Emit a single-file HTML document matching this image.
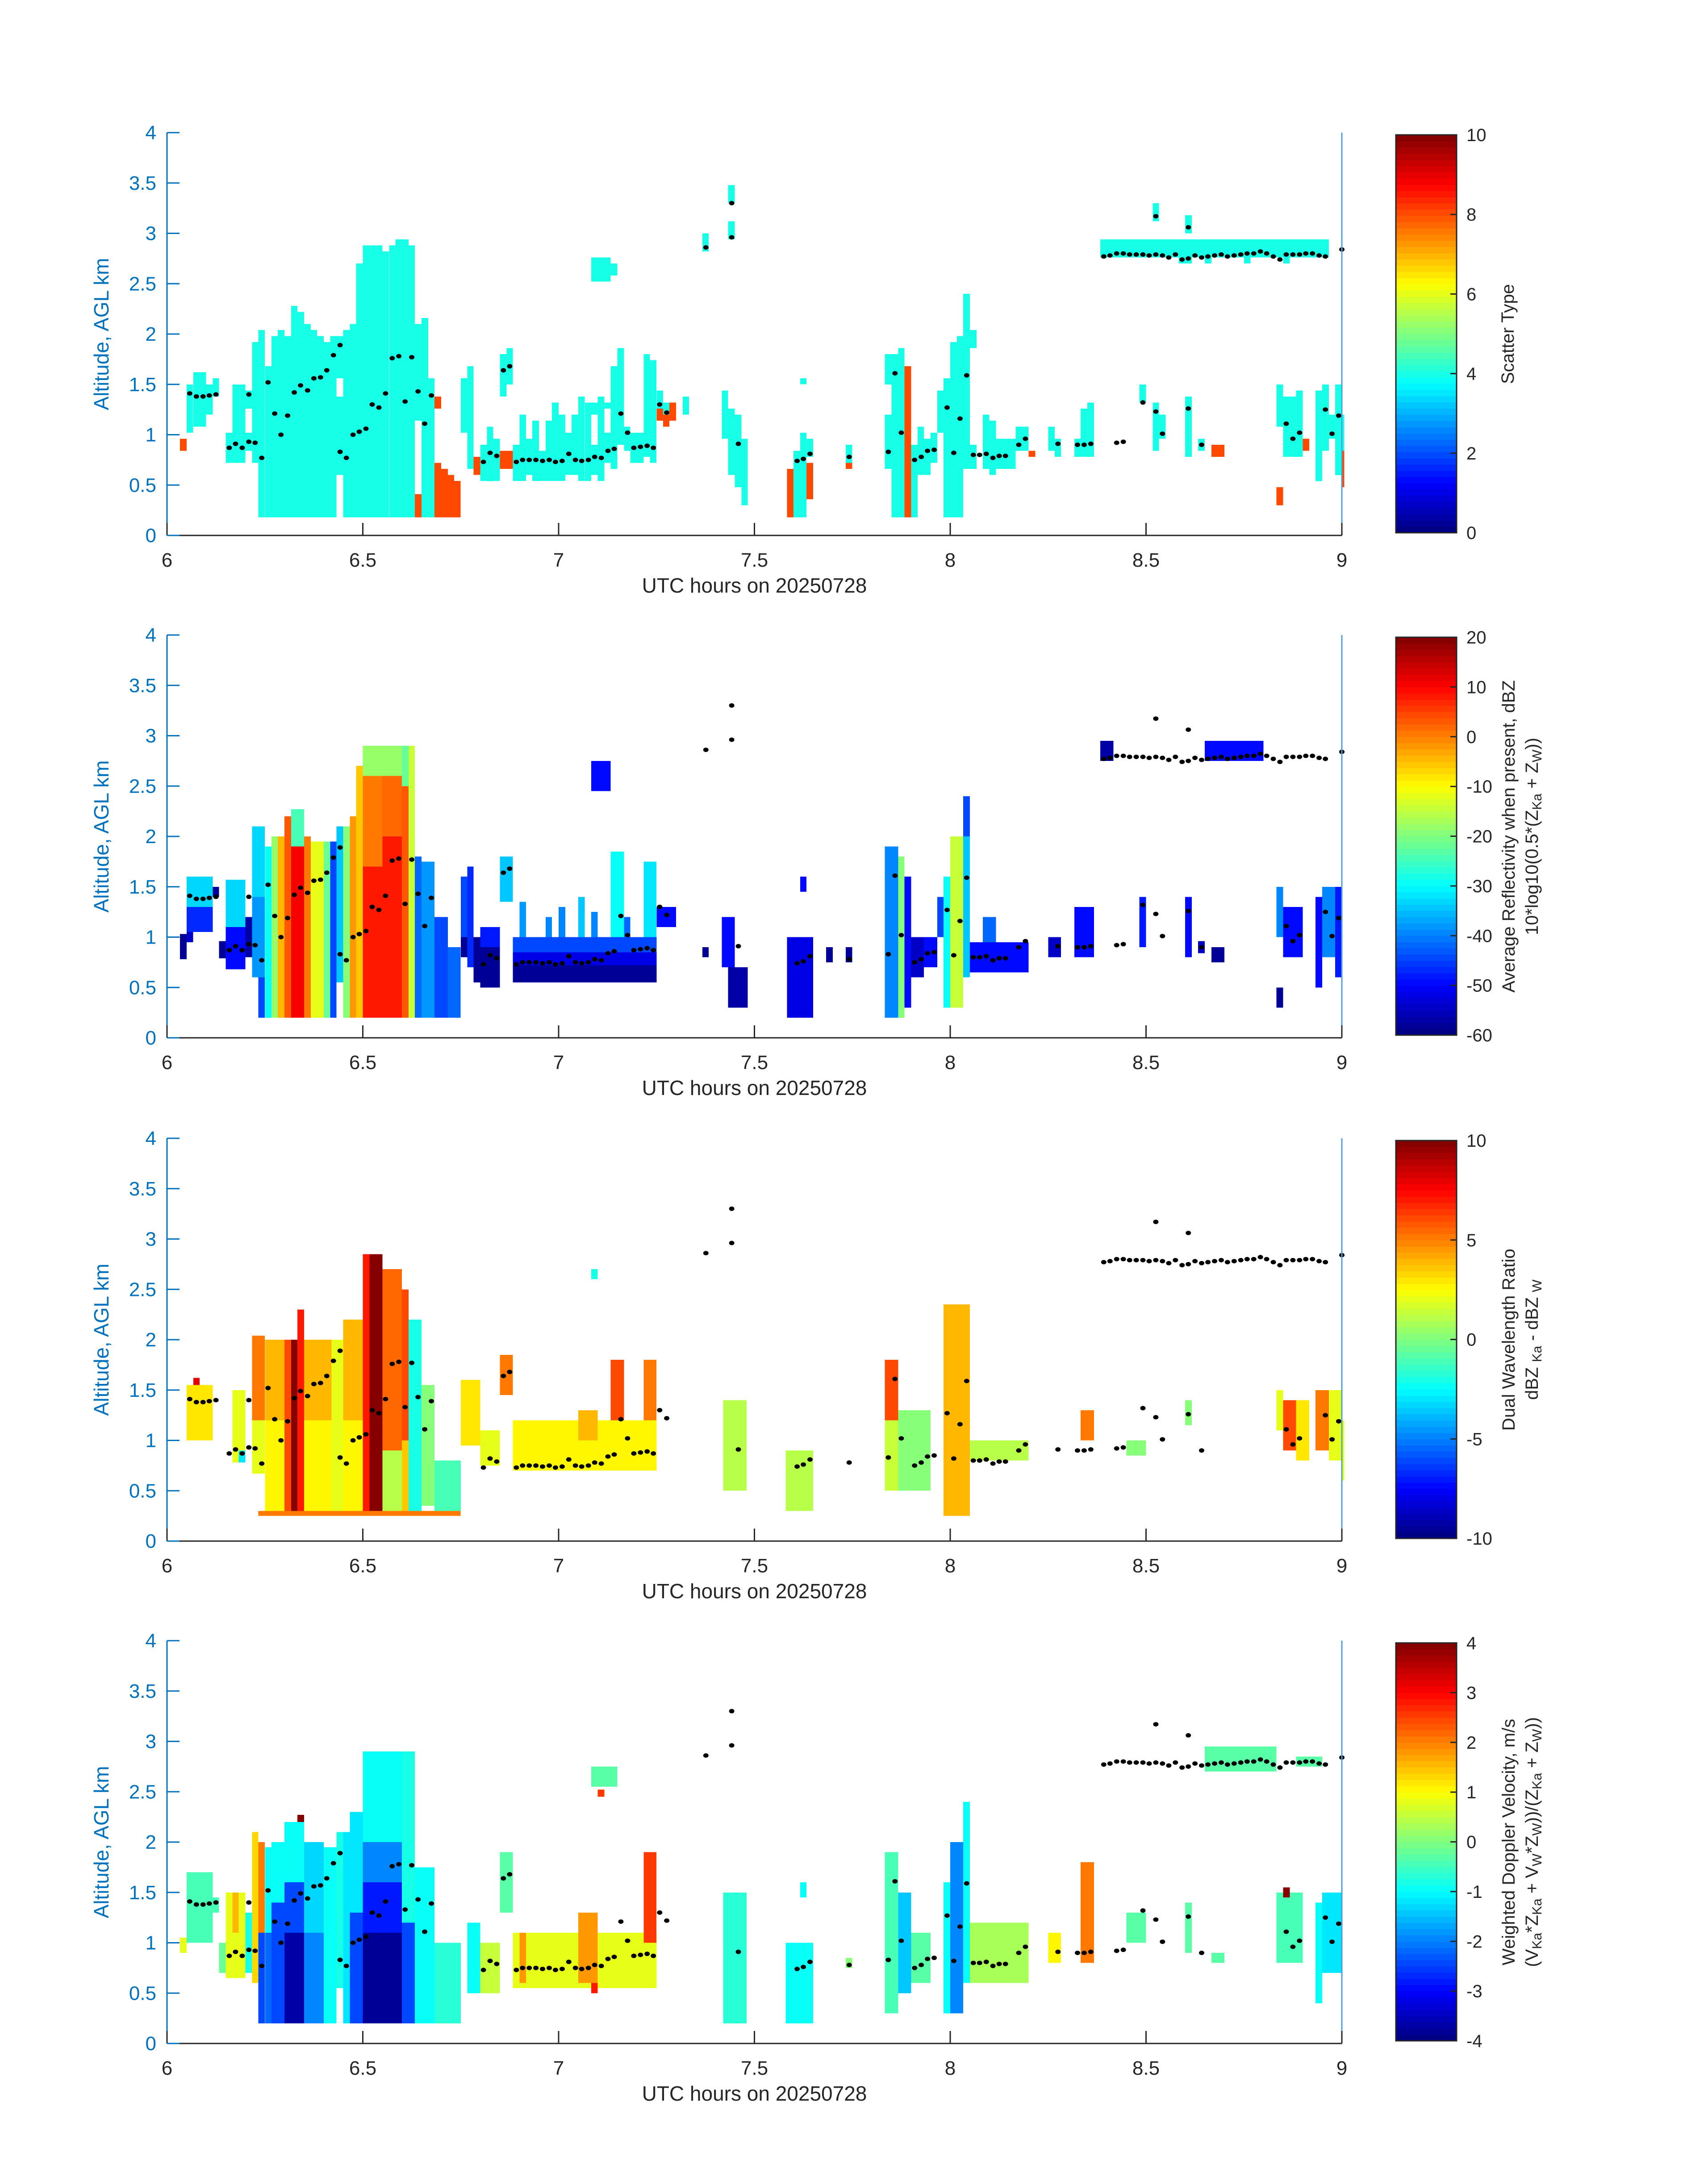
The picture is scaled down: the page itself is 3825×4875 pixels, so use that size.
<!DOCTYPE html>
<html><head><meta charset="utf-8"><style>
html,body{margin:0;padding:0;background:#fff;}
svg{display:block;font-family:"Liberation Sans","DejaVu Sans",sans-serif;}
</style></head><body>
<svg id="fig" width="3825" height="4875" viewBox="0 0 3825 4875" xmlns="http://www.w3.org/2000/svg"></svg>
<script>
// ---------- data ----------
const xTicks=[6,6.5,7,7.5,8,8.5,9];
const yTicks=[0,0.5,1,1.5,2,2.5,3,3.5,4];
const cbTicks1=[0,2,4,6,8,10];
const cbTicks2=[-60,-50,-40,-30,-20,-10,0,10,20];
const cbTicks3=[-10,-5,0,5,10];
const cbTicks4=[-4,-3,-2,-1,0,1,2,3,4];
const dotTimes=[6.058,6.075,6.092,6.108,6.125,6.159,6.175,6.192,6.209,6.209,6.225,6.242,6.258,6.275,6.291,6.308,6.325,6.341,6.359,6.375,6.392,6.408,6.425,6.442,6.442,6.458,6.475,6.491,6.508,6.524,6.541,6.558,6.575,6.592,6.608,6.625,6.641,6.658,6.675,6.808,6.825,6.842,6.859,6.875,6.892,6.908,6.925,6.942,6.959,6.976,6.992,7.009,7.026,7.043,7.059,7.076,7.092,7.109,7.126,7.142,7.159,7.176,7.192,7.209,7.226,7.242,7.258,7.276,7.376,7.442,7.442,7.459,7.609,7.625,7.642,7.742,7.842,7.859,7.875,7.909,7.926,7.942,7.959,7.992,8.009,8.025,8.042,8.059,8.075,8.092,8.109,8.125,8.141,8.175,8.192,8.275,8.325,8.342,8.359,8.425,8.442,8.492,8.525,8.542,8.608,8.642,8.858,8.875,8.892,8.958,8.975,8.992,8.525,8.608,9.0,
8.392,8.408,8.425,8.442,8.458,8.475,8.492,8.508,8.525,8.542,8.558,8.575,8.592,8.608,8.625,8.642,8.658,8.675,8.692,8.708,8.725,8.742,8.758,8.775,8.792,8.808,8.825,8.842,8.858,8.875,8.892,8.908,8.925,8.942,8.958];
const dotAlts=[1.41,1.38,1.38,1.39,1.40,0.87,0.91,0.87,0.93,1.40,0.92,0.77,1.52,1.21,1.0,1.19,1.42,1.49,1.44,1.56,1.57,1.64,1.79,1.89,0.83,0.77,1.0,1.03,1.06,1.30,1.27,1.41,1.76,1.78,1.33,1.77,1.43,1.11,1.39,0.73,0.82,0.79,1.64,1.68,0.73,0.75,0.75,0.75,0.74,0.75,0.73,0.74,0.81,0.75,0.74,0.75,0.78,0.77,0.84,0.86,1.21,1.02,0.87,0.88,0.89,0.87,1.30,1.22,2.86,3.30,2.96,0.91,0.74,0.76,0.81,0.78,0.83,1.61,1.02,0.75,0.78,0.84,0.85,1.27,0.82,1.16,1.59,0.80,0.80,0.81,0.77,0.79,0.79,0.90,0.96,0.91,0.90,0.90,0.91,0.92,0.93,1.32,1.23,1.01,1.26,0.90,1.11,0.96,1.02,1.25,1.01,1.19,3.17,3.06,2.84,
2.77,2.78,2.80,2.80,2.79,2.79,2.79,2.78,2.79,2.78,2.76,2.79,2.74,2.75,2.78,2.76,2.77,2.78,2.79,2.77,2.78,2.79,2.80,2.80,2.82,2.80,2.77,2.74,2.79,2.79,2.79,2.80,2.80,2.78,2.77];

// cells: [tStart, tEnd, zBottom, zTop, value]
const p1Cells=[
[6.033,6.05,0.84,0.96,8],[6.05,6.067,1.02,1.5,4],[6.067,6.1,1.08,1.62,4],[6.1,6.117,1.2,1.5,4],[6.117,6.133,1.38,1.56,4],
[6.15,6.167,0.72,1.02,4],[6.167,6.2,0.72,1.5,4],[6.2,6.217,0.84,1.02,4],[6.2,6.217,1.26,1.44,4],[6.217,6.233,0.72,1.92,4],
[6.233,6.25,0.18,2.04,4],[6.25,6.267,0.18,1.68,4],[6.267,6.283,0.18,1.98,4],[6.283,6.3,0.18,2.04,4],[6.3,6.317,0.18,1.98,4],
[6.317,6.333,0.18,2.28,4],[6.333,6.35,0.18,2.22,4],[6.35,6.367,0.18,2.1,4],[6.367,6.383,0.18,2.04,4],[6.383,6.4,0.18,1.98,4],
[6.4,6.417,0.18,1.92,4],[6.417,6.433,0.18,1.98,4],[6.433,6.45,0.6,1.38,4],[6.433,6.45,1.56,1.98,4],[6.45,6.467,0.18,2.04,4],
[6.467,6.483,0.18,2.1,4],[6.483,6.5,0.18,2.7,4],[6.5,6.55,0.18,2.88,4],[6.55,6.567,0.18,2.82,4],[6.567,6.583,0.18,2.88,4],
[6.583,6.617,0.18,2.94,4],[6.617,6.633,0.18,2.88,4],[6.633,6.65,0.18,0.41,8],[6.633,6.65,1.14,2.1,4],[6.65,6.667,0.18,2.16,4],
[6.667,6.683,0.18,1.56,4],[6.683,6.7,1.26,1.38,8],[6.683,6.7,0.18,0.72,8],[6.7,6.717,0.18,0.66,8],[6.717,6.733,0.18,0.6,8],
[6.733,6.75,0.18,0.54,8],[6.75,6.767,1.02,1.56,4],[6.767,6.783,0.66,1.68,4],[6.783,6.8,0.6,0.78,8],[6.8,6.817,0.54,0.9,4],
[6.817,6.833,0.54,1.08,4],[6.833,6.85,0.54,0.96,4],[6.85,6.867,1.38,1.8,4],[6.867,6.883,1.5,1.86,4],[6.85,6.883,0.66,0.84,8],
[6.883,6.9,0.54,0.9,4],[6.9,6.917,0.54,1.2,4],
[6.917,6.933,0.6,0.96,4],[6.933,6.95,0.54,1.14,4],[6.95,6.967,0.54,0.84,4],[6.967,6.983,0.54,1.14,4],[6.983,7.0,0.54,1.32,4],
[7.0,7.017,0.54,1.2,4],[7.017,7.033,0.6,1.02,4],[7.033,7.05,0.6,1.2,4],[7.05,7.067,0.54,1.38,4],[7.067,7.083,0.54,1.32,4],
[7.083,7.1,0.6,0.9,4],[7.083,7.1,1.2,1.32,4],[7.1,7.117,0.54,1.38,4],[7.117,7.133,0.72,1.02,4],[7.117,7.133,1.26,1.32,4],
[7.133,7.15,0.66,1.68,4],[7.15,7.167,0.9,1.86,4],[7.167,7.183,0.84,1.08,4],[7.183,7.217,0.72,1.02,4],[7.217,7.233,0.78,1.8,4],
[7.233,7.25,0.72,1.74,4],[7.083,7.133,2.52,2.76,4],[7.133,7.15,2.58,2.7,4],
[7.25,7.267,1.26,1.44,4],[7.25,7.267,1.14,1.26,8],[7.267,7.283,1.2,1.32,4],[7.267,7.283,1.08,1.2,8],[7.283,7.3,1.14,1.32,8],
[7.317,7.333,1.2,1.38,4],[7.367,7.383,2.82,3.0,4],[7.417,7.433,0.96,1.44,4],[7.433,7.45,3.3,3.48,4],[7.433,7.45,2.94,3.12,4],
[7.433,7.45,0.6,1.26,4],[7.45,7.467,0.48,1.2,4],[7.467,7.483,0.3,0.96,4],[7.583,7.6,0.18,0.66,8],[7.6,7.617,0.18,0.84,4],
[7.617,7.633,0.18,1.02,4],[7.617,7.633,1.5,1.56,4],[7.633,7.65,0.78,0.96,4],[7.633,7.65,0.36,0.72,8],[7.733,7.75,0.72,0.9,4],
[7.733,7.75,0.66,0.72,8],[7.833,7.85,1.5,1.8,4],[7.833,7.85,0.66,1.2,4],[7.85,7.867,0.18,1.8,4],[7.867,7.883,0.18,1.86,4],
[7.883,7.9,0.18,1.68,8],[7.9,7.917,0.18,0.9,4],[7.917,7.933,0.6,1.08,4],[7.933,7.95,0.6,0.96,4],[7.95,7.967,0.72,1.02,4],
[7.967,7.983,1.02,1.44,4],[7.983,8.0,0.18,1.56,4],[8.0,8.017,0.18,1.92,4],[8.017,8.033,0.18,1.98,4],[8.033,8.05,0.66,2.4,4],
[8.05,8.067,1.86,2.04,4],[8.05,8.067,0.66,0.9,4],[8.083,8.1,0.66,1.2,4],[8.1,8.117,0.6,1.14,4],[8.117,8.167,0.66,0.96,4],
[8.167,8.2,0.84,1.08,4],[8.2,8.217,0.78,0.84,8],[8.25,8.267,0.84,1.08,4],[8.267,8.283,0.78,0.96,4],[8.317,8.333,0.78,0.96,4],
[8.333,8.35,0.78,1.26,4],[8.35,8.367,0.78,1.32,4],[8.383,8.967,2.76,2.94,4],[8.583,8.617,2.7,2.76,4],[8.65,8.667,2.7,2.76,4],
[8.75,8.767,2.7,2.76,4],[8.85,8.867,2.7,2.76,4],[8.483,8.5,1.32,1.5,4],[8.517,8.533,3.12,3.3,4],[8.517,8.533,0.84,1.32,4],
[8.533,8.55,0.96,1.2,4],[8.6,8.617,3.0,3.18,4],[8.6,8.617,0.78,1.38,4],[8.633,8.65,0.84,0.96,4],[8.667,8.7,0.78,0.9,8],
[8.833,8.85,1.08,1.5,4],[8.833,8.85,0.3,0.48,8],[8.85,8.883,0.78,1.38,4],[8.883,8.9,0.78,1.44,4],[8.9,8.917,0.84,0.96,8],
[8.933,8.95,0.54,1.44,4],[8.95,8.967,0.84,1.5,4],[8.967,8.983,0.96,1.2,4],[8.983,9.0,0.6,1.5,4],[9.0,9.006,0.48,0.84,8],[9.0,9.006,0.84,1.2,4]];

const p2Cells=[
[6.033,6.05,0.78,1.03,-58],[6.05,6.117,1.3,1.6,-33],[6.05,6.117,1.05,1.3,-47],[6.117,6.133,1.4,1.5,-58],[6.05,6.067,0.95,1.05,-55],
[6.133,6.15,0.79,0.96,-58],[6.15,6.2,1.1,1.57,-33],[6.15,6.2,0.68,1.1,-50],[6.2,6.217,0.8,1.2,-57],
[6.217,6.25,1.4,2.1,-33],[6.217,6.25,0.6,1.4,-38],[6.233,6.25,0.2,0.6,-45],
[6.25,6.267,0.2,1.9,-30],[6.267,6.283,0.2,2.0,-18],[6.283,6.3,0.2,2.0,-5],[6.3,6.317,0.2,2.2,3],
[6.317,6.35,0.2,1.9,10],[6.317,6.35,1.9,2.27,-25],[6.35,6.367,0.2,2.0,0],[6.367,6.4,0.2,1.95,-12],[6.4,6.417,0.2,1.95,-22],
[6.417,6.433,0.2,1.95,-45],[6.433,6.45,0.55,2.1,-35],[6.45,6.467,0.2,2.1,-20],[6.467,6.483,0.2,2.2,-2],[6.483,6.5,0.2,2.7,-6],
[6.5,6.55,0.2,1.7,8],[6.5,6.55,1.7,2.6,0],[6.5,6.55,2.6,2.9,-18],[6.55,6.6,0.2,2.0,8],[6.55,6.6,2.0,2.6,2],[6.55,6.6,2.6,2.9,-18],
[6.6,6.617,0.2,2.5,3],[6.6,6.617,2.5,2.9,-22],[6.617,6.633,0.2,2.9,-15],[6.633,6.65,0.2,1.8,-42],[6.65,6.683,0.2,1.75,-38],
[6.683,6.717,0.2,1.2,-45],[6.717,6.75,0.2,0.9,-42],[6.75,6.767,0.8,1.0,-58],[6.75,6.767,1.0,1.6,-45],[6.767,6.783,0.7,1.7,-47],
[6.783,6.8,0.55,1.0,-58],[6.8,6.85,0.5,0.9,-58],[6.8,6.85,0.9,1.1,-48],[6.85,6.883,1.35,1.8,-35],
[6.883,7.25,0.55,0.72,-58],[6.883,7.25,0.72,0.85,-52],[6.883,7.25,0.85,1.0,-44],[6.9,6.917,1.0,1.35,-38],[6.967,6.983,1.0,1.2,-40],
[7.0,7.017,1.0,1.3,-40],[7.05,7.067,1.0,1.4,-35],[7.083,7.1,1.0,1.25,-40],[7.133,7.167,1.0,1.85,-30],[7.167,7.183,1.0,1.2,-42],
[7.217,7.25,1.0,1.75,-32],[7.25,7.3,1.1,1.3,-50],[7.083,7.133,2.45,2.75,-50],[7.367,7.383,0.8,0.9,-58],
[7.417,7.45,0.7,1.2,-50],[7.433,7.483,0.3,0.7,-57],[7.583,7.65,0.2,1.0,-52],[7.617,7.633,1.45,1.6,-50],[7.683,7.7,0.75,0.9,-58],
[7.733,7.75,0.75,0.9,-58],[7.833,7.867,0.2,1.9,-40],[7.867,7.883,0.2,1.8,-20],[7.883,7.9,0.3,1.6,-50],[7.9,7.933,0.6,1.0,-55],[7.933,7.967,0.7,1.0,-50],[7.967,7.983,1.0,1.4,-45],
[7.983,8.0,0.3,1.6,-30],[8.0,8.033,0.3,2.0,-15],[8.033,8.05,0.6,2.0,-35],[8.033,8.05,2.0,2.4,-45],[8.05,8.2,0.65,0.95,-50],[8.083,8.117,0.95,1.2,-42],[8.25,8.283,0.8,1.0,-55],[8.317,8.367,0.8,1.3,-50],
[8.383,8.417,2.75,2.95,-57],[8.65,8.8,2.75,2.95,-50],[8.483,8.5,0.9,1.4,-48],[8.6,8.617,0.8,1.4,-50],[8.633,8.65,0.84,0.96,-55],
[8.667,8.7,0.75,0.9,-58],[8.833,8.85,0.3,0.5,-58],[8.833,8.85,1.0,1.5,-40],[8.85,8.9,0.8,1.3,-50],[8.933,8.95,0.5,1.4,-50],[8.95,8.983,0.8,1.5,-40],[8.983,9.0,0.6,1.5,-48]];

const p3Cells=[
[6.05,6.117,1.0,1.55,3],[6.067,6.083,1.55,1.62,8],[6.167,6.2,0.78,1.5,2],[6.183,6.2,0.78,0.9,-3],
[6.217,6.25,1.2,2.04,5],[6.217,6.25,0.67,1.2,2],[6.25,6.3,0.3,1.2,2.5],[6.25,6.3,1.2,2.0,4],[6.3,6.317,0.3,2.0,6],
[6.317,6.333,0.3,2.0,10],[6.333,6.35,0.3,2.3,7],[6.35,6.42,0.3,1.2,2.5],[6.35,6.42,1.2,2.0,4],[6.42,6.45,0.3,2.0,2],
[6.45,6.5,0.3,1.2,2.5],[6.45,6.5,1.2,2.2,4],[6.5,6.517,0.3,2.85,7],[6.517,6.55,0.3,2.85,10],[6.55,6.6,0.3,0.9,1],
[6.55,6.6,0.9,2.7,5.5],[6.6,6.617,1.0,2.5,6],[6.6,6.617,0.3,1.0,3.5],[6.617,6.65,0.3,2.2,-2],[6.65,6.683,0.35,1.55,0],
[6.683,6.75,0.3,0.8,-1],[6.233,6.75,0.25,0.3,5],[6.75,6.8,0.95,1.6,3],[6.8,6.85,0.75,1.1,2],[6.85,6.883,1.45,1.85,5],
[6.883,7.25,0.7,1.2,2.5],[7.133,7.167,1.2,1.8,6],[7.217,7.25,1.2,1.8,5],[7.05,7.1,1.0,1.3,4],[7.083,7.1,2.6,2.7,-2],
[7.42,7.48,0.5,1.4,1],[7.58,7.65,0.3,0.9,1],[7.833,7.867,1.2,1.8,6],[7.833,7.867,0.5,1.2,1.5],[7.867,7.95,0.5,1.3,0],
[7.983,8.05,0.25,2.35,4],[8.05,8.2,0.8,1.0,1],[8.333,8.367,1.0,1.3,5],[8.45,8.5,0.85,1.0,0],[8.6,8.617,1.15,1.4,0],
[8.833,8.85,1.1,1.5,2],[8.85,8.883,0.9,1.4,6],[8.883,8.917,0.8,1.4,3],[8.933,8.967,0.9,1.5,5],[8.967,9.0,0.8,1.5,2],[9.0,9.006,0.6,1.2,2]];

const p4Cells=[
[6.033,6.05,0.9,1.05,0.8],[6.05,6.117,1.0,1.7,-0.4],[6.117,6.133,1.3,1.45,-0.4],[6.133,6.15,0.7,1.0,-0.2],[6.15,6.2,0.65,1.5,0.8],
[6.167,6.183,1.1,1.5,1.6],[6.2,6.217,0.7,1.3,-0.8],[6.217,6.233,0.6,2.1,1.3],[6.233,6.25,1.1,2.0,2],[6.233,6.25,0.2,1.1,-2.5],
[6.25,6.267,0.2,1.1,-2.2],[6.25,6.267,1.1,1.95,-1],[6.267,6.3,0.2,1.4,-2.5],[6.267,6.3,1.4,2.0,-1],[6.3,6.35,0.2,1.1,-3.7],
[6.3,6.35,1.1,1.6,-2.5],[6.3,6.35,1.6,2.2,-1],[6.333,6.35,2.2,2.27,4],[6.35,6.4,0.2,1.1,-2],[6.35,6.4,1.1,2.0,-1.3],
[6.4,6.433,0.2,1.95,-0.9],[6.433,6.45,0.55,2.1,-0.8],[6.45,6.467,0.2,2.1,-1.2],[6.467,6.5,0.2,1.3,-2.5],[6.467,6.5,1.3,2.3,-1.2],
[6.5,6.6,0.2,1.1,-3.8],[6.5,6.6,1.1,1.6,-2.8],[6.5,6.6,1.6,2.0,-2],[6.5,6.6,2.0,2.9,-0.9],[6.6,6.633,0.2,1.2,-2.5],
[6.6,6.633,1.2,2.9,-0.8],[6.633,6.683,0.2,1.75,-1],[6.683,6.75,0.2,1.0,-0.7],[6.767,6.8,0.5,1.2,-0.9],[6.8,6.85,0.5,1.0,0.5],
[6.85,6.883,1.3,1.9,-0.3],[6.883,7.25,0.55,1.1,0.8],[6.9,6.917,0.6,1.1,1.8],[7.05,7.1,0.6,1.3,1.8],[7.083,7.1,0.5,0.6,2.8],
[7.217,7.25,1.0,1.9,2.5],[7.083,7.15,2.55,2.75,-0.3],[7.1,7.117,2.45,2.52,2.5],[7.42,7.48,0.2,1.5,-0.7],[7.58,7.65,0.2,1.0,-1],
[7.617,7.633,1.45,1.6,-1],[7.733,7.75,0.75,0.85,0],[7.833,7.867,0.3,1.9,-0.5],[7.867,7.9,0.5,1.5,-1.5],[7.9,7.95,0.6,1.1,-0.3],
[7.983,8.0,0.3,1.6,-1],[8.0,8.033,0.3,2.0,-2],[8.033,8.05,0.6,2.4,-1],[8.05,8.2,0.6,1.2,0.3],
[8.25,8.283,0.8,1.1,1],[8.333,8.367,0.8,1.8,2],[8.65,8.833,2.7,2.95,-0.3],[8.883,8.95,2.75,2.85,-0.3],[8.45,8.5,1.0,1.3,-0.3],[8.6,8.617,0.9,1.4,-0.3],
[8.667,8.7,0.8,0.9,-0.3],[8.833,8.9,0.8,1.5,-0.5],[8.933,8.95,0.4,1.4,-1],[8.95,9.0,0.7,1.5,-1.2],[8.85,8.867,1.45,1.55,4]];

// ---------- layout ----------
const NS='http://www.w3.org/2000/svg';
const svg=document.getElementById('fig');
const AX_L=374, AX_R=3005, AX_H=902;
const TOPS=[297,1422,2549,3674];
const panels=[
 {cells:p1Cells,min:0,max:10,ticks:cbTicks1,lab:[['Scatter Type']]},
 {cells:p2Cells,min:-60,max:20,ticks:cbTicks2,lab:[['Average Reflectivity when present, dBZ'],['10*log10(0.5*(Z','Ka',' + Z','W','))']]},
 {cells:p3Cells,min:-10,max:10,ticks:cbTicks3,lab:[['Dual Wavelength Ratio'],['dBZ ','Ka',' - dBZ ','W','']]},
 {cells:p4Cells,min:-4,max:4,ticks:cbTicks4,lab:[['Weighted Doppler Velocity, m/s'],['(V','Ka','*Z','Ka',' + V','W','*Z','W','))/(Z','Ka',' + Z','W','))']]}
];
function jet(f){f=Math.max(0,Math.min(1,f));f=(Math.min(63,Math.floor(f*64))+0.5)/64;
 const c=v=>Math.round(255*Math.max(0,Math.min(1,v)));
 return 'rgb('+c(1.5-Math.abs(4*f-3))+','+c(1.5-Math.abs(4*f-2))+','+c(1.5-Math.abs(4*f-1))+')';}
function el(tag,attrs,parent){const e=document.createElementNS(NS,tag);for(const k in attrs)e.setAttribute(k,attrs[k]);(parent||svg).appendChild(e);return e;}

panels.forEach((P,pi)=>{
 const top=TOPS[pi], bot=top+AX_H;
 const xs=t=>AX_L+(t-6)/3*(AX_R-AX_L);
 const ys=z=>bot-z/4*AX_H;
 const g=el('g',{});
 
 
 const cg=el('g',{'shape-rendering':'crispEdges'},g);
 
 
 P.cells.forEach(c=>{
  const x0=xs(c[0]),x1=xs(c[1]),y0=ys(c[3]),y1=ys(c[2]);
  const r=el('rect',{x:x0.toFixed(1),y:y0.toFixed(1),width:(x1-x0).toFixed(1),height:(y1-y0).toFixed(1),fill:jet((c[4]-P.min)/(P.max-P.min))},cg);
  
  
 });
 const dg=el('g',{},g);
 
 
 dotTimes.forEach((t,i)=>{
  const d=el('ellipse',{cx:xs(t).toFixed(1),cy:ys(dotAlts[i]).toFixed(1),rx:6,ry:5,fill:'#000'},dg);
  
  
 });
 const ax=el('g',{},g);
 
 
 el('line',{x1:AX_L,y1:bot,x2:AX_R,y2:bot,stroke:'#262626','stroke-width':3},ax);
 el('line',{x1:AX_L,y1:top,x2:AX_L,y2:bot,stroke:'#0072BD','stroke-width':3},ax);
 el('line',{x1:AX_R,y1:top,x2:AX_R,y2:bot,stroke:'#4DA0DB','stroke-width':3},ax);
 xTicks.forEach(t=>{
  el('line',{x1:xs(t),y1:bot,x2:xs(t),y2:bot-28,stroke:'#262626','stroke-width':3},ax);
  const tx=el('text',{x:xs(t),y:bot+70,'text-anchor':'middle','font-size':44,fill:'#262626'},ax);
  tx.textContent=String(t);
  
  
 });
 yTicks.forEach(z=>{
  el('line',{x1:AX_L,y1:ys(z),x2:AX_L+28,y2:ys(z),stroke:'#0072BD','stroke-width':3},ax);
  const tx=el('text',{x:350,y:ys(z)+15,'text-anchor':'end','font-size':44,fill:'#0072BD'},ax);
  tx.textContent=String(z);
  
  
 });
 const xt=el('text',{x:(AX_L+AX_R)/2,y:bot+128,'text-anchor':'middle','font-size':46,fill:'#262626'},g);
 xt.textContent='UTC hours on 20250728';
 
 
 const yt=el('text',{x:0,y:0,'text-anchor':'middle','font-size':46,fill:'#0072BD',transform:'translate(243,'+(top+AX_H/2)+') rotate(-90)'},g);
 yt.textContent='Altitude, AGL km';
 
 
 const cb=el('g',{},g);
 
 
 const cT=top+5,cB=bot-6,cL=3126,cR=3262;
 const n=64,h=(cB-cT)/n;
 for(let i=0;i<n;i++){el('rect',{x:cL,y:(cB-(i+1)*h).toFixed(2),width:cR-cL,height:(h+0.6).toFixed(2),fill:jet((i+0.5)/n),'shape-rendering':'crispEdges'},cb);}
 el('rect',{x:cL,y:cT,width:cR-cL,height:cB-cT,fill:'none',stroke:'#262626','stroke-width':3},cb);
 P.ticks.forEach(v=>{
  const y=cB-(v-P.min)/(P.max-P.min)*(cB-cT);
  el('line',{x1:cR-14,y1:y,x2:cR,y2:y,stroke:'#262626','stroke-width':3},cb);
  const tx=el('text',{x:cR+22,y:y+14,'font-size':40,fill:'#262626'},cb);
  tx.textContent=String(v);
  
  
 });
 const nl=P.lab.length;
 P.lab.forEach((parts,li)=>{
  const cx = nl===1 ? 3390 : (li===0?3392:3444);
  const tx=el('text',{x:0,y:0,'text-anchor':'middle','font-size':40,fill:'#262626',transform:'translate('+cx+','+(top+AX_H/2)+') rotate(-90)'},cb);
  parts.forEach((s,k)=>{
   const sp=el('tspan',{},tx);
   if(k%2===1){sp.setAttribute('font-size','30');sp.setAttribute('dy','8');}
   else if(k>0){sp.setAttribute('dy','-8');}
   sp.textContent=s;
  });
  
  
 });
});
</script>
</body></html>
